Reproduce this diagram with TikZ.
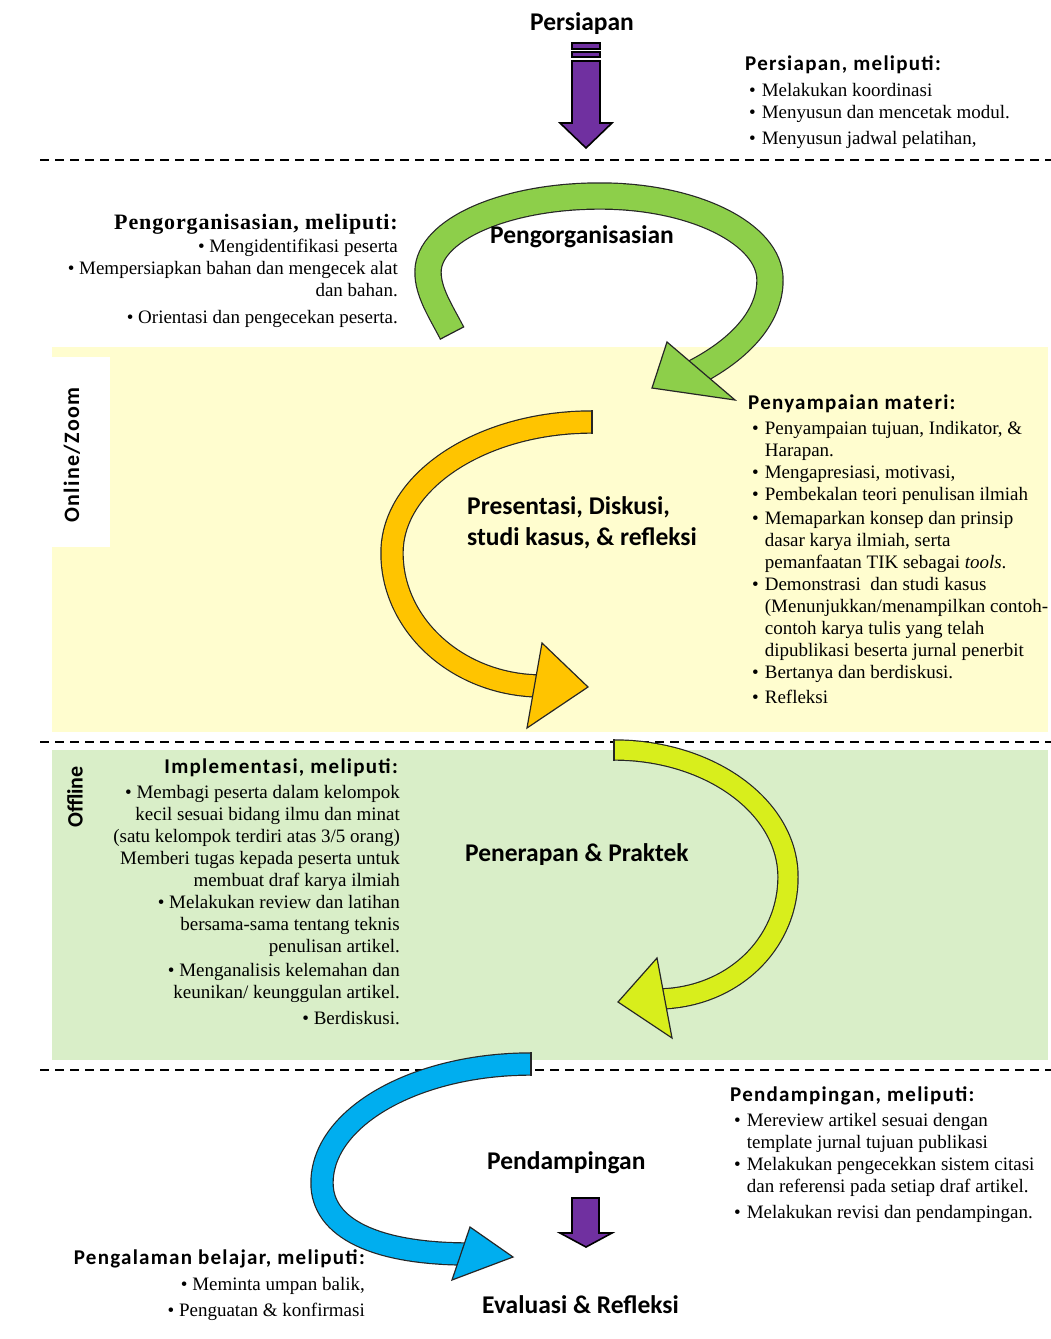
\documentclass[tikz,border=0pt]{standalone}
\usepackage{fontspec}
\setmainfont{Liberation Serif}
\newfontfamily\labelfont{Carlito}
\newfontfamily\headfont{Carlito}[LetterSpace=6]
\newfontfamily\headserif{Liberation Serif}[LetterSpace=4]
\usetikzlibrary{positioning, calc}

\definecolor{purp}{HTML}{7030A0}
\definecolor{orgcol}{HTML}{8DCF4A}
\definecolor{prescol}{HTML}{FFC400}
\definecolor{praktcol}{HTML}{D8EE1C}
\definecolor{dampcol}{HTML}{00AEEF}
\definecolor{onband}{HTML}{FFFDCF}
\definecolor{offband}{HTML}{D9EEC8}

\begin{document}
\begin{tikzpicture}[x=1pt, y=1pt,
  lbl/.style={inner sep=0pt, font=\labelfont\bfseries\fontsize{25.5}{30}\selectfont},
  hd/.style={inner sep=0pt, font=\headfont\bfseries\fontsize{21}{25}\selectfont},
  lst/.style={inner sep=0pt, font=\fontsize{19}{22}\selectfont},
  divider/.style={line width=1.8pt, dash pattern=on 9pt off 6pt},
  swoop/.style={line width=1.2pt, draw=black!85, double distance=#1},
  headtri/.style={draw=black!85, line width=1.2pt, line join=miter},
  tailcap/.style={draw=black!85, line width=1.2pt},
  block/.style={fill=purp, draw=black, line width=1.6pt, line join=miter}]
\useasboundingbox (0,0) rectangle (1051,-1339);

\fill[onband] (52,-347) rectangle (1048,-732);
\fill[white] (52,-357) rectangle (110,-547);
\fill[offband] (52,-750) rectangle (1048,-1060);

\coordinate (la) at (40,-160);  \coordinate (ra) at (1051,-160);
\coordinate (lb) at (40,-742);  \coordinate (rb) at (1051,-742);
\coordinate (lc) at (40,-1070); \coordinate (rc) at (1051,-1070);
\draw[divider] (la) -- (ra);
\draw[divider] (lb) -- (rb);
\draw[divider] (lc) -- (rc);

\filldraw[block] (572,-61) -- (600,-61) -- (600,-123) -- (612,-123) -- (586,-148)
  -- (560,-123) -- (572,-123) -- cycle;
\filldraw[block, line width=1.3pt] (572,-43) rectangle (600,-49) (572,-52) rectangle (600,-57);
\filldraw[block] (572,-1198) -- (599,-1198) -- (599,-1233) -- (612,-1233) -- (586,-1247)
  -- (560,-1233) -- (572,-1233) -- cycle;

\coordinate (o0) at (452,-333);
\coordinate (o1) at (428,-272);
\coordinate (o2) at (600,-196);
\coordinate (o3) at (770,-280);
\coordinate (o4) at (694,-373);
\coordinate (oc) at (440,-310);
\draw[swoop=25pt, double=orgcol] (o0) .. controls (oc) and (428,-292) .. (o1)
  .. controls (428,-230) and (505,-196) .. (o2)
  .. controls (694,-196) and (770,-234) .. (o3)
  .. controls (770,-320) and (735,-352) .. (o4);
\draw[tailcap] ($(o0)!13.7pt!90:(oc)$) -- ($(o0)!13.7pt!-90:(oc)$);
\filldraw[headtri, fill=orgcol] (667,-342) -- (652,-388) -- (735,-400) -- cycle;

\coordinate (y0) at (592,-422);
\coordinate (y1) at (392,-553);
\coordinate (y2) at (542,-686);
\coordinate (yc) at (482,-422);
\draw[swoop=21pt, double=prescol] (y0) .. controls (yc) and (392,-481) .. (y1)
  .. controls (392,-626) and (459,-686) .. (y2);
\draw[tailcap] ($(y0)!11.7pt!90:(yc)$) -- ($(y0)!11.7pt!-90:(yc)$);
\filldraw[headtri, fill=prescol] (542,-643) -- (588,-687) -- (527,-728) -- cycle;

\coordinate (p0) at (614,-750);
\coordinate (p1) at (788,-877);
\coordinate (p2) at (656,-999);
\coordinate (pc) at (710,-750);
\draw[swoop=19pt, double=praktcol] (p0) .. controls (pc) and (788,-807) .. (p1)
  .. controls (788,-944) and (732,-999) .. (p2);
\draw[tailcap] ($(p0)!10.7pt!90:(pc)$) -- ($(p0)!10.7pt!-90:(pc)$);
\filldraw[headtri, fill=praktcol] (657,-958) -- (618,-1002) -- (672,-1038) -- cycle;

\coordinate (b0) at (531,-1064);
\coordinate (b1) at (322,-1183);
\coordinate (b2) at (469,-1254);
\coordinate (bc) at (416,-1064);
\draw[swoop=21pt, double=dampcol] (b0) .. controls (bc) and (322,-1117) .. (b1)
  .. controls (322,-1228) and (375,-1254) .. (b2);
\draw[tailcap] ($(b0)!11.7pt!90:(bc)$) -- ($(b0)!11.7pt!-90:(bc)$);
\filldraw[headtri, fill=dampcol] (470,-1227) -- (513,-1257) -- (452,-1280) -- cycle;

\node[lbl, anchor=base] (prep) at (582,-30) {Persiapan};
\node[lbl, anchor=base] (org) at (582,-243) {Pengorganisasian};
\node[lbl, anchor=base west] (pres) at (467,-514) {Presentasi, Diskusi,};
\node[lbl, anchor=base west] (pres2) at (467,-545) {studi kasus, \& refleksi};
\node[lbl, anchor=base west] (prakt) at (465,-861) {Penerapan \& Praktek};
\node[lbl, anchor=base west] (damp) at (487,-1169) {Pendampingan};
\node[lbl, anchor=base west] (eval) at (482,-1313) {Evaluasi \& Refleksi};

\node[font=\headfont\bfseries\fontsize{22}{26}\selectfont, rotate=90] (online) at (72,-455) {Online/Zoom};
\node[font=\labelfont\bfseries\fontsize{22}{26}\selectfont, rotate=90] (offline) at (75,-797) {Offline};

\node[hd, anchor=base west] (prepH) at (745,-70) {Persiapan, meliputi:};
\node[lst, anchor=base west] (prepL) at (749,-96) {\begin{tabular}[t]{@{}l@{\hspace{6pt}}l@{}}
\textbullet & Melakukan koordinasi\\
\textbullet & Menyusun dan mencetak modul.\\[4pt]
\textbullet & Menyusun jadwal pelatihan,
\end{tabular}};

\node[inner sep=0pt, font=\headserif\bfseries\fontsize{22}{26}\selectfont, anchor=base east] (orgH) at (398,-229) {Pengorganisasian, meliputi:};
\node[lst, anchor=base east] (orgL) at (398,-252) {\begin{tabular}[t]{@{}r@{}}
\textbullet\ Mengidentifikasi peserta\\
\textbullet\ Mempersiapkan bahan dan mengecek alat\\
dan bahan.\\[5pt]
\textbullet\ Orientasi dan pengecekan peserta.
\end{tabular}};

\node[hd, anchor=base west] (presH) at (748,-409) {Penyampaian materi:};
\node[lst, anchor=base west] (presL) at (752,-434) {\begin{tabular}[t]{@{}l@{\hspace{6pt}}l@{}}
\textbullet & Penyampaian tujuan, Indikator, \&\\
 & Harapan.\\
\textbullet & Mengapresiasi, motivasi,\\
\textbullet & Pembekalan teori penulisan ilmiah\\[2pt]
\textbullet & Memaparkan konsep dan prinsip\\
 & dasar karya ilmiah, serta\\
 & pemanfaatan TIK sebagai \textit{tools}.\\
\textbullet & Demonstrasi \ dan studi kasus\\
 & (Menunjukkan/menampilkan contoh-\\
 & contoh karya tulis yang telah\\
 & dipublikasi beserta jurnal penerbit\\
\textbullet & Bertanya dan berdiskusi.\\[3pt]
\textbullet & Refleksi
\end{tabular}};

\node[hd, anchor=base east] (implH) at (398,-773) {Implementasi, meliputi:};
\node[lst, anchor=base east] (implL) at (400,-798) {\begin{tabular}[t]{@{}r@{}}
\textbullet\ Membagi peserta dalam kelompok\\
kecil sesuai bidang ilmu dan minat\\
(satu kelompok terdiri atas 3/5 orang)\\
Memberi tugas kepada peserta untuk\\
membuat draf karya ilmiah\\
\textbullet\ Melakukan review dan latihan\\
bersama-sama tentang teknis\\
penulisan artikel.\\[2pt]
\textbullet\ Menganalisis kelemahan dan\\
keunikan/ keunggulan artikel.\\[4pt]
\textbullet\ Berdiskusi.
\end{tabular}};

\node[hd, anchor=base west] (dampH) at (730,-1101) {Pendampingan, meliputi:};
\node[lst, anchor=base west] (dampL) at (734,-1126) {\begin{tabular}[t]{@{}l@{\hspace{6pt}}l@{}}
\textbullet & Mereview artikel sesuai dengan\\
 & template jurnal tujuan publikasi\\
\textbullet & Melakukan pengecekkan sistem citasi\\
 & dan referensi pada setiap draf artikel.\\[4pt]
\textbullet & Melakukan revisi dan pendampingan.
\end{tabular}};

\node[hd, anchor=base east] (expH) at (365,-1264) {Pengalaman belajar, meliputi:};
\node[lst, anchor=base east] (expL) at (365,-1290) {\begin{tabular}[t]{@{}r@{}}
\textbullet\ Meminta umpan balik,\\[4pt]
\textbullet\ Penguatan \& konfirmasi
\end{tabular}};
\end{tikzpicture}
\end{document}
